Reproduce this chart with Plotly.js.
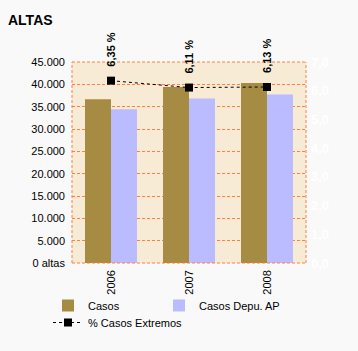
<!DOCTYPE html>
<html><head><meta charset="utf-8">
<script src="https://cdn.plot.ly/plotly-3.0.1.min.js"></script>
<style>html,body{margin:0;padding:0;background:#f9f9f9;}</style>
</head><body><div id="chart" style="width:358px;height:351px;"></div>
<script>
const years = ['2006', '2007', '2008'];
const casos = [36650, 39400, 40300];
const casosDepu = [34400, 36850, 37750];
const pctExtremos = [6.35, 6.11, 6.13];
const pctLabels = ['6,35 %', '6,11 %', '6,13 %'];
const leftTicks = [0, 5000, 10000, 15000, 20000, 25000, 30000, 35000, 40000, 45000];
const leftTickText = ['0 altas', '5.000', '10.000', '15.000', '20.000', '25.000', '30.000', '35.000', '40.000', '45.000'];

const FONT = 'Liberation Sans, Arial, sans-serif';
const GRID = '#ff8040';

const traces = [
  {type: 'bar', name: 'Casos', x: years, y: casos, marker: {color: '#a68c42'}, legend: 'legend'},
  {type: 'bar', name: 'Casos Depu. AP', x: years, y: casosDepu, marker: {color: '#bbbbff'}, legend: 'legend2'},
  {type: 'scatter', mode: 'lines+markers', name: '% Casos Extremos', x: years, y: pctExtremos, yaxis: 'y2', legend: 'legend3',
   line: {color: '#000', width: 1, dash: '3px,3px'}, marker: {symbol: 'square', size: 8, color: '#000'}}
];

const annotations = years.map((yr, i) => ({
  x: i, y: pctExtremos[i], xref: 'x', yref: 'y2', text: pctLabels[i], textangle: -90,
  showarrow: false, xanchor: 'center', yanchor: 'bottom', yshift: 12,
  font: {family: FONT, size: 11, color: '#000', weight: 'bold'}
}));

const legendBase = (x, y) => ({
  orientation: 'h', xref: 'container', x: x / 358, xanchor: 'left', yref: 'container', y: 1 - y / 351, yanchor: 'top',
  bgcolor: 'rgba(0,0,0,0)', borderwidth: 0, font: {family: FONT, size: 11, color: '#000'}, itemwidth: 30
});

const layout = {
  width: 358, height: 351,
  paper_bgcolor: '#f9f9f9', plot_bgcolor: '#f7ebd5',
  margin: {l: 72, r: 52, t: 62, b: 88},
  separators: ',.',
  font: {family: FONT, size: 11, color: '#000'},
  title: {text: 'ALTAS', x: 8/358, xref: 'container', xanchor: 'left', y: 1 - 20/351, yref: 'container', yanchor: 'middle',
          font: {family: FONT, size: 14, weight: 'bold', color: '#000'}},
  barmode: 'group', bargap: 0.333, bargroupgap: 0,
  xaxis: {type: 'category', range: [-0.5, 2.5], autorange: false, showgrid: false, zeroline: false, showline: false, tickangle: -90,
          ticks: '', ticklen: 0, ticklabelstandoff: 4, tickfont: {family: FONT, size: 11, color: '#000'}},
  yaxis: {range: [0, 45000], tickvals: leftTicks, ticktext: leftTickText, showgrid: true,
          gridcolor: GRID, griddash: '3px,2px', gridwidth: 1, zeroline: false, showline: false,
          ticks: '', ticklabelstandoff: 6, tickfont: {family: FONT, size: 11, color: '#000'}},
  yaxis2: {range: [0, 7], dtick: 1, tickformat: '.1f', overlaying: 'y', side: 'right', showgrid: false,
           zeroline: false, showline: false, ticks: '', ticklabelstandoff: 4,
           tickfont: {family: FONT, size: 13, color: '#ffffff', weight: 'bold'}},
  shapes: [
    {type: 'line', xref: 'paper', yref: 'paper', x0: 0, x1: 0, y0: 0, y1: 1, line: {color: GRID, width: 1, dash: '3px,2px'}},
    {type: 'line', xref: 'paper', yref: 'paper', x0: 1, x1: 1, y0: 0, y1: 1, line: {color: GRID, width: 1, dash: '3px,2px'}},
    {type: 'line', xref: 'paper', yref: 'paper', x0: 0, x1: 1, y0: 0, y1: 0, line: {color: GRID, width: 1, dash: '3px,2px'}},
    {type: 'line', xref: 'paper', yref: 'paper', x0: 0, x1: 1, y0: 1, y1: 1, line: {color: GRID, width: 1, dash: '3px,2px'}}
  ],
  annotations: annotations,
  showlegend: true,
  legend: legendBase(48, 291),
  legend2: legendBase(159, 291),
  legend3: legendBase(48, 308)
};

Plotly.newPlot('chart', traces, layout, {displayModeBar: false, staticPlot: true});
</script></body></html>
